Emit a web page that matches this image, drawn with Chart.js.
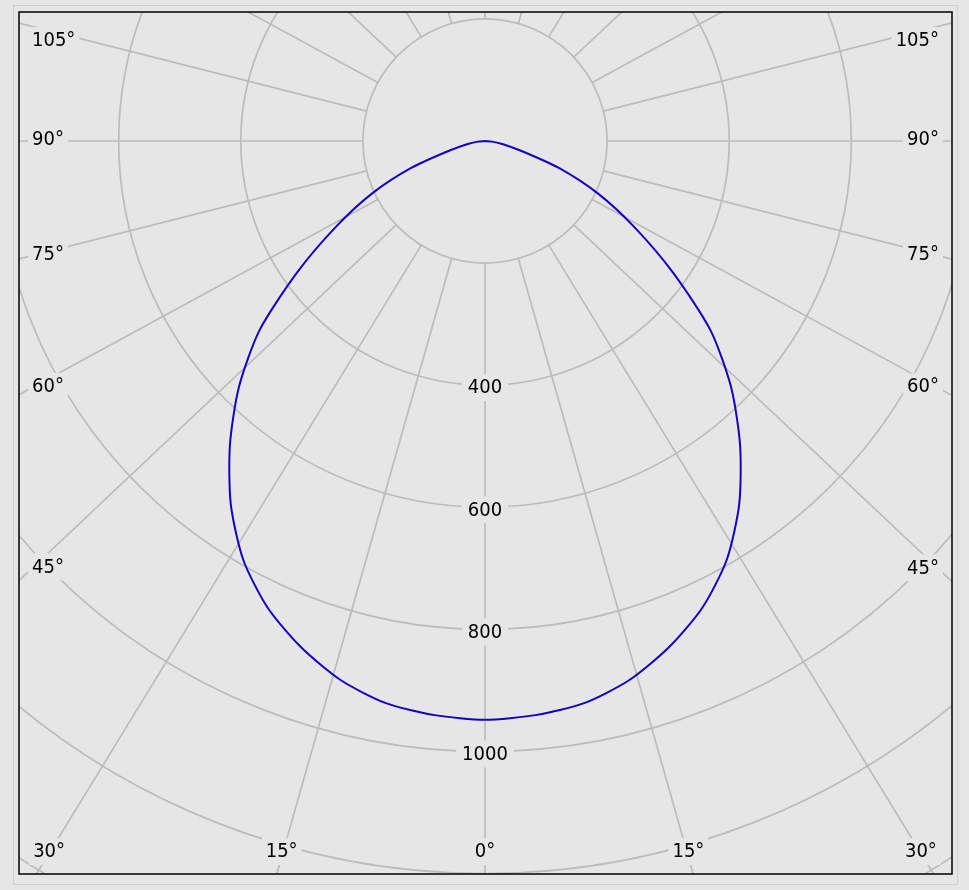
<!DOCTYPE html>
<html>
<head>
<meta charset="utf-8">
<script src="https://cdn.jsdelivr.net/npm/chart.js@4/dist/chart.umd.min.js"></script>
<style>
  html, body { margin: 0; padding: 0; background: #e6e6e6; overflow: hidden; }
  canvas { display: block; }
</style>
</head>
<body>
<canvas id="c" width="969" height="890"></canvas>
<script>
// ---------- data ----------
// gamma angle (deg from nadir) and luminous intensity (cd) of the curve, same on both sides
const curveAngles    = [0, 5, 10, 15, 20, 25, 30, 35, 40, 45, 50, 55, 60, 65, 70, 75, 80, 85, 90];
const curveIntensity = [948, 944, 935, 914, 882, 843, 792, 726, 650, 570, 482, 376, 283, 205, 128, 60, 30, 12, 0];
// polar grid
const ringValues  = [200, 400, 600, 800, 1000, 1200, 1400];
const ringLabels  = [400, 600, 800, 1000];
const spokeAngles = [-165, -150, -135, -120, -105, -90, -75, -60, -45, -30, -15, 0, 15, 30, 45, 60, 75, 90, 105, 120, 135, 150, 165, 180];
const angleLabels = [-105, -90, -75, -60, -45, -30, -15, 0, 15, 30, 45, 60, 75, 90, 105];

// ---------- layout / style ----------
const FRAME = { left: 19, top: 12, right: 952, bottom: 874 };
const CENTER = { x: 485, y: 141 };
const PX_PER_CD = 0.6105;
const SPOKE_ASPECT = 1.06;
const BG = '#e6e6e6';
const GRID = '#bcbcbc';
const CURVE = '#1600c2';
const FONT = '20px "DejaVu Sans Condensed", "DejaVu Sans", sans-serif';

// points of the curve through the polar -> cartesian conversion
const pts = [];
for (let i = curveAngles.length - 1; i >= 0; i--) {
  const g = -curveAngles[i] * Math.PI / 180;
  pts.push({ x: curveIntensity[i] * Math.sin(g), y: -curveIntensity[i] * Math.cos(g) });
}
for (let i = 1; i < curveAngles.length; i++) {
  const g = curveAngles[i] * Math.PI / 180;
  pts.push({ x: curveIntensity[i] * Math.sin(g), y: -curveIntensity[i] * Math.cos(g) });
}

function labelBox(ctx, text, x, y, align, padX) {
  const w = ctx.measureText(text).width;
  const left = align === 'left' ? x : (align === 'right' ? x - w : x - w / 2);
  ctx.fillStyle = BG;
  ctx.fillRect(left - padX, y - 13, w + 2 * padX, 27);
  ctx.fillStyle = '#000';
  ctx.textAlign = align;
  ctx.textBaseline = 'middle';
  ctx.fillText(text, x, y + 1);
}

const polarGrid = {
  id: 'polarGrid',
  beforeDraw(chart) {
    const ctx = chart.ctx;
    ctx.save();
    ctx.fillStyle = BG;
    ctx.fillRect(0, 0, chart.width, chart.height);
    ctx.strokeStyle = '#cfcfcf';
    ctx.lineWidth = 1;
    ctx.strokeRect(13.5, 5.5, 944, 879);
    ctx.restore();
  },
  beforeDatasetsDraw(chart) {
    const { ctx, chartArea: a, scales: { x, y } } = chart;
    const cx = x.getPixelForValue(0), cy = y.getPixelForValue(0);
    const rad = v => Math.abs(y.getPixelForValue(-v) - cy);
    ctx.save();
    ctx.beginPath();
    ctx.rect(a.left, a.top, a.right - a.left, a.bottom - a.top);
    ctx.clip();
    ctx.strokeStyle = GRID;
    ctx.lineWidth = 1.7;
    ringValues.forEach(v => {
      ctx.beginPath();
      ctx.arc(cx, cy, rad(v), 0, Math.PI * 2);
      ctx.stroke();
    });
    const dirOf = g => {
      const r = g * Math.PI / 180;
      let dx = SPOKE_ASPECT * Math.sin(r), dy = Math.cos(r);
      const n = Math.hypot(dx, dy);
      return [dx / n, dy / n];
    };
    const r0 = rad(ringValues[0]);
    spokeAngles.forEach(g => {
      const [dx, dy] = dirOf(g);
      ctx.beginPath();
      ctx.moveTo(cx + dx * r0, cy + dy * r0);
      ctx.lineTo(cx + dx * 3000, cy + dy * 3000);
      ctx.stroke();
    });
    // labels
    ctx.font = FONT;
    ringLabels.forEach(v => labelBox(ctx, String(v), cx, cy + rad(v) + 2, 'center', 6));
    const sideL = a.left + 13, sideR = a.right - 13, bot = a.bottom - 24, top = a.top + 28;
    angleLabels.forEach(g => {
      const [dx, dy] = dirOf(g);
      const text = Math.abs(g) + '°';
      if (dx === 0) { labelBox(ctx, text, cx, bot + 1, 'center', 4); return; }
      const sx = dx < 0 ? sideL : sideR;
      const ts = (sx - cx) / dx;
      const ys = cy + dy * ts;
      if (dy > 0 && ys > bot) {
        const tb = (bot - cy) / dy;
        labelBox(ctx, text, cx + dx * tb + 2 * Math.sign(dx), bot + 1, 'center', 4);
      } else {
        labelBox(ctx, text, sx, Math.max(top, ys - 2), dx < 0 ? 'left' : 'right', 4);
      }
    });
    ctx.restore();
  },
  afterDraw(chart) {
    const { ctx, chartArea: a } = chart;
    ctx.save();
    ctx.strokeStyle = '#000';
    ctx.lineWidth = 1.5;
    ctx.strokeRect(a.left, a.top, a.right - a.left, a.bottom - a.top);
    ctx.restore();
  }
};

new Chart(document.getElementById('c'), {
  type: 'scatter',
  data: {
    datasets: [{
      data: pts,
      showLine: true,
      borderColor: CURVE,
      borderWidth: 2,
      pointRadius: 0,
      tension: 0.25,
      fill: false
    }]
  },
  options: {
    responsive: false,
    animation: false,
    devicePixelRatio: 1,
    layout: { padding: { left: FRAME.left, top: FRAME.top, right: 969 - FRAME.right, bottom: 890 - FRAME.bottom } },
    plugins: { legend: { display: false }, tooltip: { enabled: false } },
    scales: {
      x: { type: 'linear', display: false, min: -(CENTER.x - FRAME.left) / PX_PER_CD, max: (FRAME.right - CENTER.x) / PX_PER_CD },
      y: { type: 'linear', display: false, min: -(FRAME.bottom - CENTER.y) / PX_PER_CD, max: (CENTER.y - FRAME.top) / PX_PER_CD }
    }
  },
  plugins: [polarGrid]
});
</script>
</body>
</html>
